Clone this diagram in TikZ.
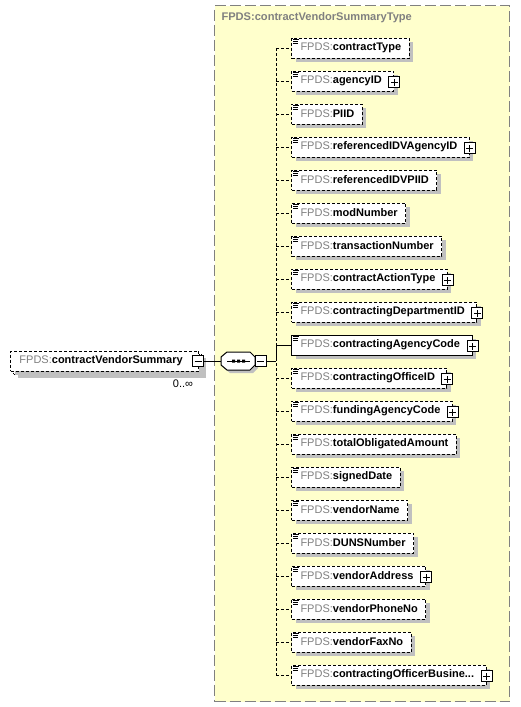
\documentclass[tikz,border=0pt]{standalone}
\usepackage{fontspec}
\setmainfont{Liberation Sans}
\usetikzlibrary{shadows}
\definecolor{typeyellow}{HTML}{FFFFCC}
\definecolor{typegray}{HTML}{808080}
\definecolor{fpgray}{HTML}{808080}
\definecolor{shadowgray}{HTML}{C0C0C0}
\newcommand\fp{{\color{fpgray}FPDS:}}
\newcommand\lab[1]{\hspace*{9pt}\fp\textbf{#1}\hspace*{8pt}}
\newcommand\labp[1]{\hspace*{9pt}\fp\textbf{#1}\hspace*{12pt}}
\newcommand\labl[1]{\hspace*{9pt}\fp\textbf{#1}\hspace*{16pt}}
\newcommand\elem[4]{%
  \node[el,#3] (#1) at (291,#2) {#4};
  \draw[line width=0.8pt] ([xshift=2pt,yshift=-2pt]#1.north west) -- ++(6,0)
    ([xshift=2pt,yshift=-4pt]#1.north west) -- ++(5,0)
    ([xshift=2pt,yshift=-6pt]#1.north west) -- ++(5,0);}
\newcommand\plusat[1]{\node[pmbox,plus] (#1p) at ([yshift=-1pt]#1.east) {};}
\begin{document}
\begin{tikzpicture}[x=1pt,y=-1pt,line width=1pt,
  el/.style={draw, fill=white, anchor=west, minimum height=20pt, inner sep=0pt,
    font=\fontsize{11}{12}\selectfont,
    drop shadow={shadow xshift=4pt, shadow yshift=-4pt, fill=shadowgray, opacity=1}},
  opt/.style={dash pattern=on 3pt off 2pt},
  req/.style={solid},
  pmbox/.style={draw, solid, fill=white, line width=1pt, minimum size=11pt, inner sep=0pt},
  plus/.style={path picture={\draw[line width=1pt]
      ([xshift=-3.5pt]path picture bounding box.center) -- ([xshift=3.5pt]path picture bounding box.center)
      ([yshift=-3.5pt]path picture bounding box.center) -- ([yshift=3.5pt]path picture bounding box.center);}},
  minus/.style={path picture={\draw[line width=1pt]
      ([xshift=-3.5pt]path picture bounding box.center) -- ([xshift=3.5pt]path picture bounding box.center);}},
]
\useasboundingbox (0,0) rectangle (520,707);

% type box
\node[draw=typegray, dash pattern=on 11pt off 4pt, fill=typeyellow, minimum width=295pt,
  minimum height=696pt, anchor=north west, inner sep=0pt] (tb) at (214,5) {};
\node[anchor=west, inner sep=0pt, text=fpgray, font=\fontsize{11.1}{12}\selectfont\bfseries] (title) at (221,18) {FPDS:contractVendorSummaryType};

% left element (multiple)
\node[el,opt] (cvsb) at (13,364) {\phantom{\labl{contractVendorSummary}}};
\node[el,opt,drop shadow={opacity=0}] (cvs) at (10,361) {\labl{contractVendorSummary}};
\node[pmbox,minus] (cvsm) at ([xshift=-1pt]cvs.east) {};
\node[inner sep=0pt, font=\fontsize{11}{12}\selectfont] (mult) at (183,384) {0..∞};

% sequence compositor
\fill[shadowgray] (230,355) -- (253,355) -- (258,360) -- (258,368) -- (253,373) -- (230,373) -- (224,368) -- (224,360) -- cycle;
\draw[fill=white] (227,352) -- (250,352) -- (255,357) -- (255,365) -- (250,370) -- (227,370) -- (221,365) -- (221,357) -- cycle;
\node[minimum width=34pt, minimum height=18pt, inner sep=0pt] (seq) at (238,361) {};
\draw (227,361) -- (250,361);
\fill (232,359.5) rectangle (235,362.5) (237,359.5) rectangle (240,362.5) (242,359.5) rectangle (245,362.5);
\node[pmbox,minus] (seqm) at (260.5,361) {};
\coordinate (trunk) at (276,361);
\draw (cvsm.east) -- (seq.west);
\draw (seqm.east) -- (trunk);

% child elements
\elem{e1}{48}{opt}{\lab{contractType}}
\elem{e2}{81}{opt}{\labp{agencyID}}
\elem{e3}{114}{opt}{\lab{PIID}}
\elem{e4}{147}{opt}{\labp{referencedIDVAgencyID}}
\elem{e5}{180}{opt}{\lab{referencedIDVPIID}}
\elem{e6}{213}{opt}{\lab{modNumber}}
\elem{e7}{246}{opt}{\lab{transactionNumber}}
\elem{e8}{279}{opt}{\labp{contractActionType}}
\elem{e9}{312}{opt}{\labp{contractingDepartmentID}}
\elem{e10}{345}{req}{\labp{contractingAgencyCode}}
\elem{e11}{378}{opt}{\labp{contractingOfficeID}}
\elem{e12}{411}{opt}{\labp{fundingAgencyCode}}
\elem{e13}{444}{opt}{\lab{totalObligatedAmount}}
\elem{e14}{477}{opt}{\lab{signedDate}}
\elem{e15}{510}{opt}{\lab{vendorName}}
\elem{e16}{543}{opt}{\lab{DUNSNumber}}
\elem{e17}{576}{opt}{\labp{vendorAddress}}
\elem{e18}{609}{opt}{\lab{vendorPhoneNo}}
\elem{e19}{642}{opt}{\lab{vendorFaxNo}}
\elem{e20}{675}{opt}{\labp{contractingOfficerBusine...}}
\foreach \n in {e2,e4,e8,e9,e10,e11,e12,e17,e20} {\plusat{\n}}

% connectors
\draw[opt] (e1.west -| trunk) -- (e20.west -| trunk);
\draw (e10.west -| trunk) -- (trunk);
\foreach \n in {e1,e2,e3,e4,e5,e6,e7,e8,e9,e11,e12,e13,e14,e15,e16,e17,e18,e19,e20}
  {\draw[opt] (\n.west -| trunk) -- (\n.west);}
\draw (e10.west -| trunk) -- (e10.west);
\end{tikzpicture}
\end{document}
